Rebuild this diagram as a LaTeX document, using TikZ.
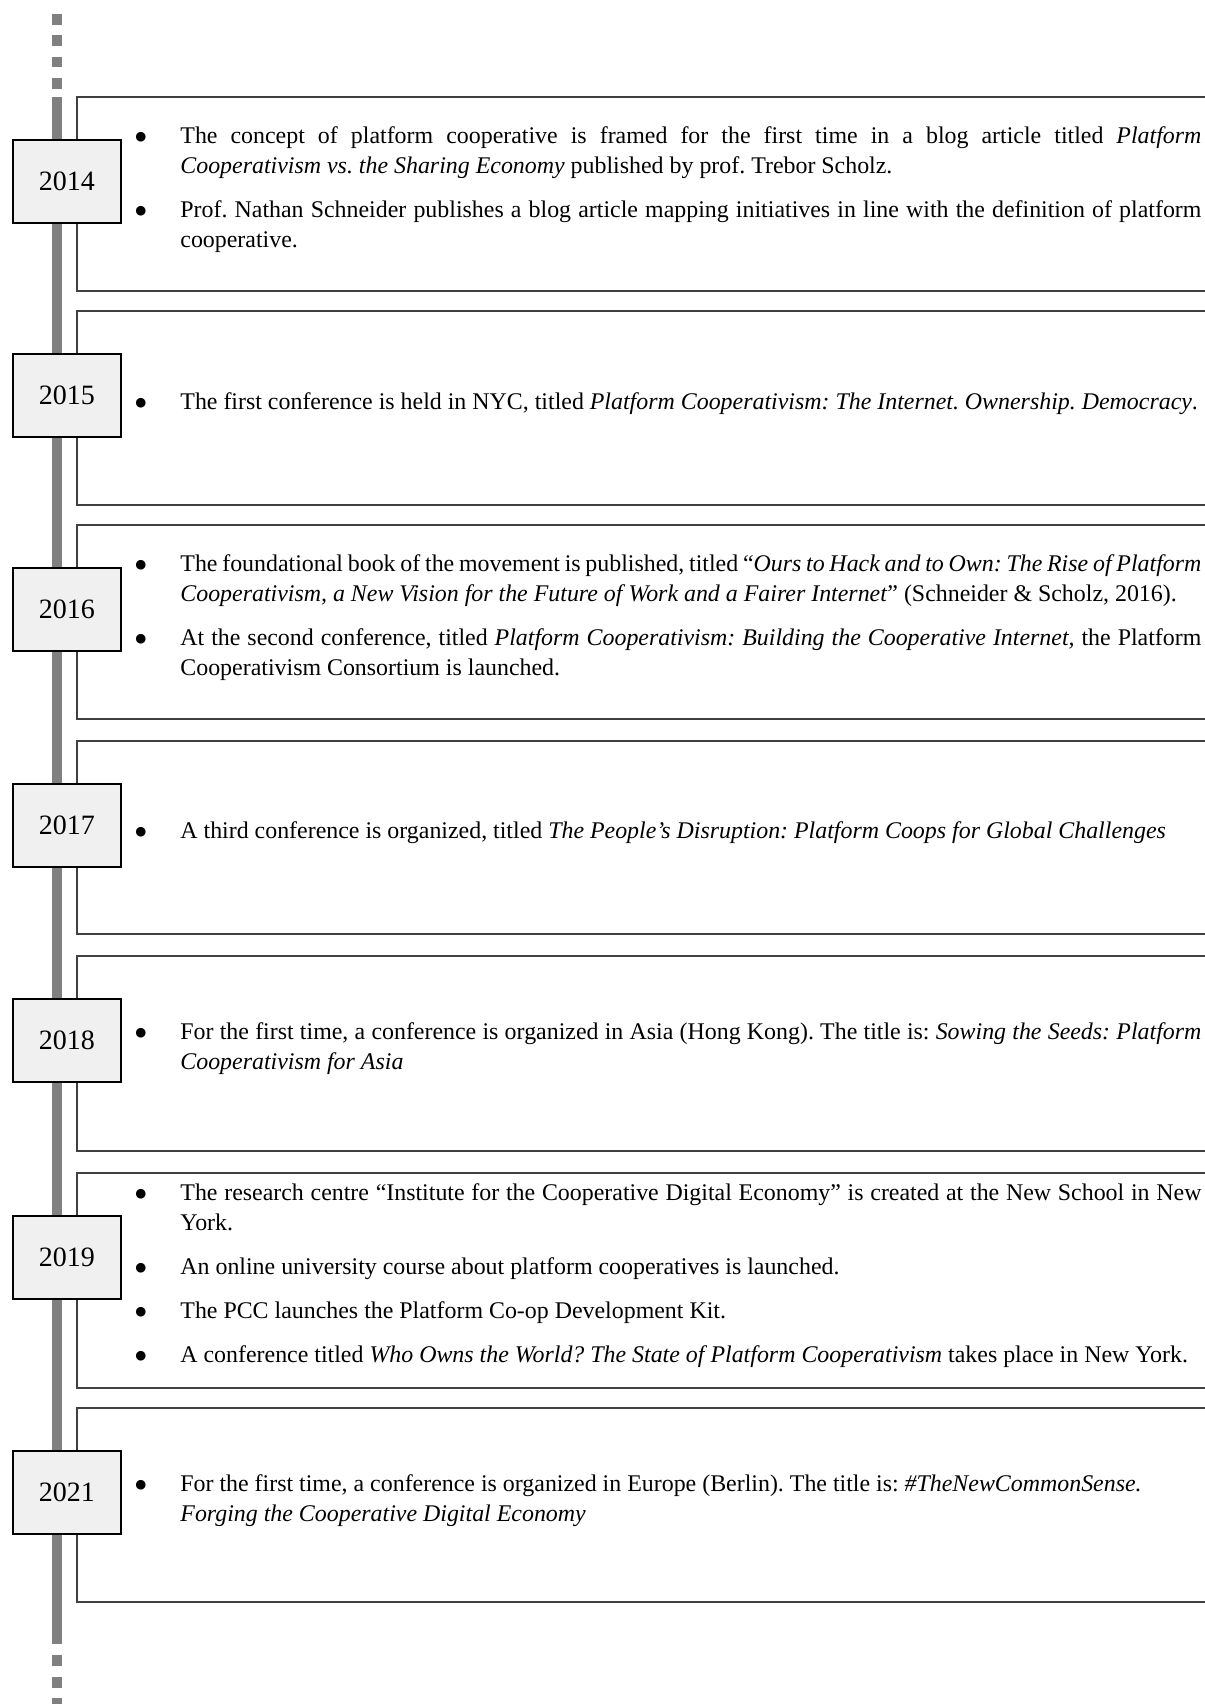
\documentclass[tikz,border=0pt]{standalone}
\usepackage{fontspec}
\setmainfont{Liberation Serif}
\newfontfamily\symfont{DejaVu Sans}
\frenchspacing

\newcommand{\evbullet}{\raisebox{1.6pt}{\symfont\fontsize{6.3}{6.3}\selectfont ●}}
\newenvironment{eventlist}{%
  \begin{list}{\evbullet}{%
    \setlength{\leftmargin}{29pt}\setlength{\labelwidth}{12pt}%
    \setlength{\labelsep}{17pt}\setlength{\topsep}{0pt}%
    \setlength{\partopsep}{0pt}\setlength{\parsep}{0pt}%
    \setlength{\itemsep}{7pt}}}%
  {\end{list}}

\tikzset{
  rail/.style={line width=5pt, draw=black!50},
  panel/.style={draw=black!75, line width=0.6pt},
  yearbox/.style={draw=black, fill=black!6, line width=0.9pt, inner sep=0pt,
    minimum width=54pt, minimum height=41.5pt, font=\fontsize{14}{16}\selectfont},
  events/.style={anchor=west, text width=539.5pt, inner sep=0pt, align=justify,
    font=\fontsize{11.95}{15}\selectfont}
}

\begin{document}
\begin{tikzpicture}[x=0.5pt, y=-0.5pt]
		\clip (0,0) rectangle (1205,1704);
		
		% Timeline
		\coordinate (railtop) at (57,97);
		\coordinate (railend) at (57,1644);
		\coordinate (fadetop) at (57,14);
		\coordinate (fadeend) at (57,1715);
		\draw[rail] (railtop) -- (railend);
		\draw[rail, dash pattern=on 5.3pt off 5.35pt] (fadetop) -- ++(0,75);
		\draw[rail, dash pattern=on 5.5pt off 5.25pt] ([yshift=-5.5pt]railend) -- (fadeend);
		
		% Panels and year boxes
		\foreach \yr/\top/\bot in {2014/97/291, 2015/311/505, 2016/525/719,
			2017/741/934, 2018/956/1151, 2019/1173/1388, 2021/1408/1602} {
			\draw[panel] (77,\top) rectangle (1215,\bot);
			\node[yearbox] (y\yr) at (67,\top+84.5) {\yr};
			\coordinate (c\yr) at (122,{(\top+\bot)/2-11});
		}
		
		% Events
		\node[events] (ev2014) at (c2014) {\begin{eventlist}
			\item The concept of platform cooperative is framed for the first time in a blog article titled \textit{Platform}\linebreak \textit{Cooperativism vs. the Sharing Economy} published by prof. Trebor Scholz.
			\item Prof. Nathan Schneider publishes a blog article mapping initiatives in line with the definition of platform\linebreak cooperative.
			\end{eventlist}};
		\node[events] (ev2015) at (c2015) {\begin{eventlist}
			\item The first conference is held in NYC, titled \textit{Platform Cooperativism: The Internet. Ownership. Democracy}.
			\end{eventlist}};
		\node[events] (ev2016) at (c2016) {\begin{eventlist}
			\item The foundational book of the movement is published, titled “\textit{Ours to Hack and to Own: The Rise of Platform}\linebreak \textit{Cooperativism, a New Vision for the Future of Work and a Fairer Internet}” (Schneider \& Scholz, 2016).
			\item At the second conference, titled \textit{Platform Cooperativism: Building the Cooperative Internet,} the Platform\linebreak Cooperativism Consortium is launched.
			\end{eventlist}};
		\node[events] (ev2017) at (c2017) {\begin{eventlist}
			\item A third conference is organized, titled \textit{The People’s Disruption: Platform Coops for Global Challenges}
			\end{eventlist}};
		\node[events] (ev2018) at (c2018) {\begin{eventlist}
			\item For the first time, a conference is organized in Asia (Hong Kong). The title is: \textit{Sowing the Seeds: Platform}\linebreak \textit{Cooperativism for Asia}
			\end{eventlist}};
		\node[events] (ev2019) at (c2019) {\begin{eventlist}
			\item The research centre “Institute for the Cooperative Digital Economy” is created at the New School in New\linebreak York.
			\item An online university course about platform cooperatives is launched.
			\item The PCC launches the Platform Co-op Development Kit.
			\item A conference titled \textit{Who Owns the World? The State of Platform Cooperativism} takes place in New York.
			\end{eventlist}};
		\node[events] (ev2021) at (c2021) {\begin{eventlist}
			\item For the first time, a conference is organized in Europe (Berlin). The title is: \textit{\#TheNewCommonSense.}\newline\textit{Forging the Cooperative Digital Economy}
			\end{eventlist}};
	\end{tikzpicture}
\end{document}
